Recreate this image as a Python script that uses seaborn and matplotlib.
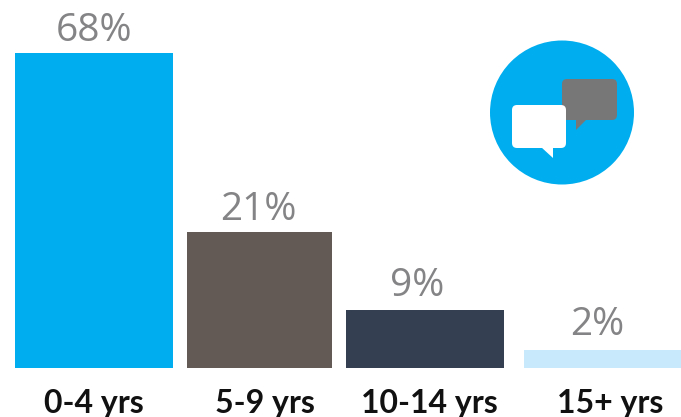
import numpy as np
import pandas as pd
import matplotlib
matplotlib.use("Agg")
import matplotlib.pyplot as plt
from matplotlib.patches import Circle, FancyBboxPatch, Polygon
import seaborn as sns

# Survey shares by length of tenure
age_bands = ["0-4 yrs", "5-9 yrs", "10-14 yrs", "15+ yrs"]
shares = [68, 21, 9, 2]
share_labels = ["68%", "21%", "9%", "2%"]
bar_colors = ["#00AEEF", "#635A56", "#343F52", "#C8E9FB"]

# Horizontal layout, in pixels across the figure
bar_left = [15, 187, 346, 524]
bar_right = [173, 332, 504, 681]
label_x = [94, 258, 417, 597]
tick_x = [94, 265, 429, 610]
# Gap between each bar top and its label, in points
label_gap = [2.2, 2.2, 3.6, 4.2]

# The bars are not drawn to a linear scale: the value axis bends through these knots
scale_values = [0, 2, 9, 21, 68, 100]
scale_heights = [0, 18, 58, 136, 315, 368]

W, H = 681, 417
BASELINE = 368

sns.set_theme(style="white")
plt.rcParams["font.family"] = ["Lato", "DejaVu Sans"]

fig = plt.figure(figsize=(W / 100, H / 100), dpi=100, facecolor="white")
ax = fig.add_axes([0, (H - BASELINE) / H, 1, BASELINE / H])

table = pd.DataFrame({
    "centre": [(l + r) / 2 for l, r in zip(bar_left, bar_right)],
    "share": shares,
    "band": age_bands,
})
sns.barplot(data=table, x="centre", y="share", hue="band", palette=bar_colors,
            native_scale=True, dodge=False, legend=False, saturation=1, ax=ax)

# Each bar has its own width and gap
for container, left, right in zip(ax.containers, bar_left, bar_right):
    for patch in container:
        patch.set_x(left)
        patch.set_width(right - left)
        patch.set_linewidth(0)

ax.set_yscale("function", functions=(
    lambda v: np.interp(v, scale_values, scale_heights),
    lambda h: np.interp(h, scale_heights, scale_values),
))
ax.set_xlim(0, W)
ax.set_ylim(0, 100)
ax.set_xlabel("")
ax.set_ylabel("")
ax.set_yticks([])
ax.minorticks_off()
ax.set_xticks(tick_x)
ax.set_xticklabels(age_bands, fontsize=23, fontweight="bold", color="#111111")
ax.tick_params(axis="x", length=0, pad=15)
sns.despine(ax=ax, left=True, bottom=True)

for x, share, text, gap in zip(label_x, shares, share_labels, label_gap):
    ax.annotate(text, xy=(x, share), xytext=(0, gap), textcoords="offset points",
                ha="center", va="bottom", fontsize=28, fontweight="normal",
                family=["Open Sans", "DejaVu Sans"], color="#848486")

# Speech-bubble badge, drawn on a pixel-sized overlay
badge = fig.add_axes([0, 0, 1, 1], facecolor="none")
badge.set_xlim(0, W)
badge.set_ylim(H, 0)
badge.axis("off")
badge.add_patch(Circle((562, 112.5), 72, color="#00AEEF", lw=0))
badge.add_patch(FancyBboxPatch((565, 82), 49, 35, boxstyle="round,pad=3,rounding_size=5",
                               fc="#777777", ec="none"))
badge.add_patch(Polygon([(576, 119), (587, 119), (576, 130)], fc="#777777", ec="none"))
badge.add_patch(FancyBboxPatch((515, 108), 48, 37, boxstyle="round,pad=3,rounding_size=5",
                               fc="white", ec="none"))
badge.add_patch(Polygon([(541, 147), (553, 147), (553, 158)], fc="white", ec="none"))

fig.savefig("out.png", dpi=100, facecolor="white")
